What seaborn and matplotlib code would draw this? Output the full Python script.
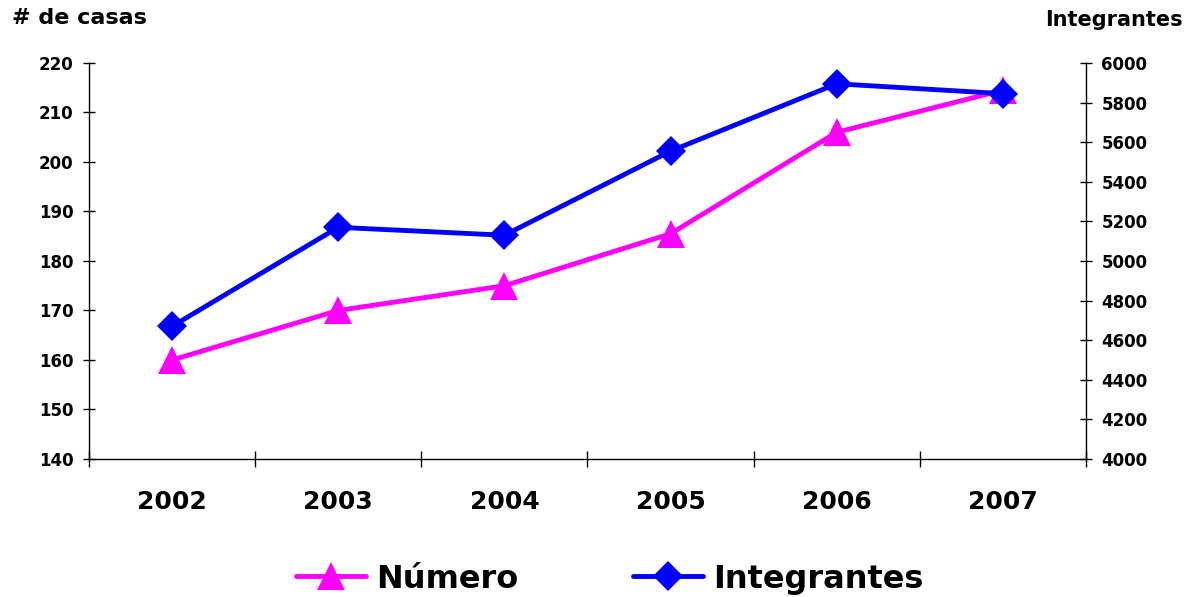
import numpy as np
import pandas as pd
import matplotlib
matplotlib.use("Agg")
import matplotlib.pyplot as plt
import seaborn as sns

years = ["2002", "2003", "2004", "2005", "2006", "2007"]
numero = [160, 170, 175, 185.5, 206, 214.5]
integrantes = [4670, 5170, 5130, 5555, 5895, 5845]

sns.set_style("white")
plt.rcParams['font.family'] = ['DejaVu Sans']
plt.rcParams['font.weight'] = 'bold'
plt.rcParams['text.color'] = 'black'
plt.rcParams['xtick.color'] = 'black'
plt.rcParams['ytick.color'] = 'black'

df = pd.DataFrame({"pos": np.arange(len(years)), "year": years,
                   "numero": numero, "integrantes": integrantes})

fig = plt.figure(figsize=(11.93, 5.97), dpi=100)
ax = fig.add_axes([0.0746, 0.2312, 0.8357, 0.6633])
ax2 = ax.twinx()

sns.lineplot(data=df, x="pos", y="numero", ax=ax, color="#FF00FF", lw=3.5,
             marker="^", markersize=20, markeredgewidth=0, label="Número", legend=False)
sns.lineplot(data=df, x="pos", y="integrantes", ax=ax2, color="#0000FF", lw=3.5,
             marker="D", markersize=15, markeredgewidth=0, label="Integrantes", legend=False)

ax.set_xlim(-0.5, len(years) - 0.5)
ax.set_ylim(140, 220)
ax2.set_ylim(4000, 6000)
ax.set_yticks(np.arange(140, 221, 10))
ax2.set_yticks(np.arange(4000, 6001, 200))

# category boundaries get the tick marks, labels sit in the middle
ax.set_xticks(np.arange(-0.5, len(years), 1.0))
ax.set_xticklabels([])
ax.set_xticks(np.arange(len(years)), minor=True)
ax.set_xticklabels(years, minor=True, fontsize=18, fontweight='bold')
ax.tick_params(axis='x', which='minor', bottom=True, length=0, pad=22)
ax.tick_params(axis='x', which='major', bottom=True, direction='inout', length=11, width=1)
ax.tick_params(axis='y', left=True, direction='inout', length=8, width=1, labelsize=12, pad=7)
ax2.tick_params(axis='y', right=True, direction='inout', length=8, width=1, labelsize=12, pad=7)

for a in (ax, ax2):
    a.set_xlabel("")
    a.set_ylabel("")
    a.spines['top'].set_visible(False)
    for s in ('left', 'right', 'bottom'):
        a.spines[s].set_color('black')
        a.spines[s].set_linewidth(1)
ax.spines['right'].set_visible(False)
ax2.spines['left'].set_visible(False)
ax2.spines['bottom'].set_visible(False)

fig.text(12 / 1193, 1 - 18 / 597, "# de casas", fontsize=16, fontweight='bold', va='center', ha='left')
fig.text(1183 / 1193, 1 - 20 / 597, "Integrantes", fontsize=15, fontweight='bold', va='center', ha='right')

h1, l1 = ax.get_legend_handles_labels()
h2, l2 = ax2.get_legend_handles_labels()
fig.legend(h1 + h2, l1 + l2, loc='center', bbox_to_anchor=(0.511, 0.03), ncol=2,
           frameon=False, prop={'size': 23, 'weight': 'bold'}, handlelength=2.2,
           columnspacing=3.6, handletextpad=0.3)

fig.savefig("out.png", dpi=100)
